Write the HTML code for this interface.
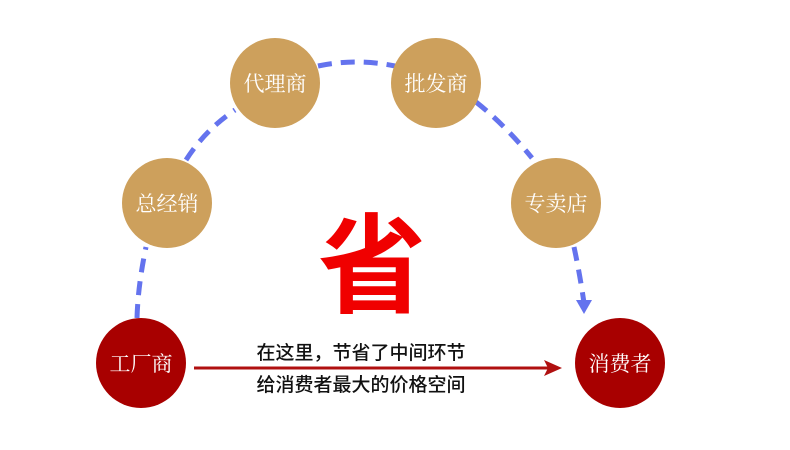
<!DOCTYPE html>
<html><head><meta charset="utf-8"><style>
html,body{margin:0;padding:0;background:#fff;width:790px;height:450px;overflow:hidden}
</style></head><body>
<svg width="790" height="450" xmlns="http://www.w3.org/2000/svg">
<g fill="none" stroke="#6473ee" stroke-width="5" stroke-dasharray="14,9">
<path d="M137 318 Q138 285 146 247"/>
<path d="M186 160 Q205 130 235 110"/>
<path d="M318 66 Q356 58 395 66"/>
<path d="M476 102 Q505 125 532 158"/>
<path d="M574 247 Q580 275 584 303"/>
</g>
<path d="M576 300 L592 300 L584 314 Z" fill="#6473ee"/>
<g fill="#cda05c">
<circle cx="275" cy="83" r="45"/>
<circle cx="436" cy="83" r="45"/>
<circle cx="167" cy="203" r="45"/>
<circle cx="556" cy="203" r="45"/>
</g>
<g fill="#a80000">
<circle cx="141" cy="363" r="45"/>
<circle cx="620" cy="363" r="45"/>
</g>
<line x1="194" y1="368" x2="552" y2="368" stroke="#b01010" stroke-width="3"/>
<path d="M562 368 L544 360 L548 368 L544 376 Z" fill="#b01010"/>
<g font-family="Noto Serif CJK SC, serif" font-size="21" fill="#fff" text-anchor="middle">
<text x="275" y="91">代理商</text>
<text x="436" y="91">批发商</text>
<text x="167" y="211">总经销</text>
<text x="556" y="211">专卖店</text>
<text x="141" y="371">工厂商</text>
<text x="620" y="371">消费者</text>
</g>
<text x="372" y="304" font-family="Liberation Sans, Noto Sans CJK SC, sans-serif" font-weight="bold" font-size="108" fill="#f00000" text-anchor="middle">省</text>
<g font-family="Liberation Sans, Noto Sans CJK SC, sans-serif" font-size="19" font-weight="500" fill="#111" text-anchor="middle">
<text x="361" y="359">在这里，节省了中间环节</text>
<text x="361" y="391">给消费者最大的价格空间</text>
</g>
</svg>
</body></html>
